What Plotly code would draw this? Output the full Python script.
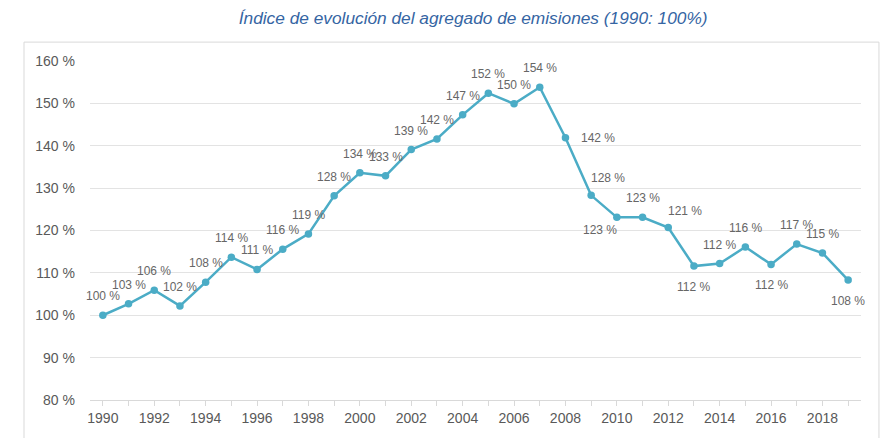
import plotly.graph_objects as go

# Emissions index, 1990 = 100 %
years = list(range(1990, 2020))
index_pct = [100.0, 102.7, 105.9, 102.2, 107.8, 113.7, 110.8, 115.6, 119.2, 128.2,
             133.6, 132.9, 139.1, 141.6, 147.3, 152.4, 149.9, 153.8, 141.9, 128.3,
             123.1, 123.1, 120.7, 111.6, 112.2, 116.1, 112.0, 116.8, 114.7, 108.3]

# where each data label sits relative to its point
label_pos = ['t'] * 18 + ['r', 'tr', 'bl', 't', 'tr', 'b', 't', 't', 'b', 't', 't', 'b']

shifts = {
    't': (0, 19),
    'b': (0, -21),
    'r': (33, 0),
    'tr': (17, 17),
    'bl': (-17, -13),
}

fig = go.Figure()
fig.add_trace(go.Scatter(
    x=years, y=index_pct,
    mode='lines+markers',
    line=dict(color='#4BACC6', width=2.5),
    marker=dict(color='#4BACC6', size=7.5),
    hovertemplate='%{x}: %{y:.1f} %<extra></extra>',
))

for yr, val, pos in zip(years, index_pct, label_pos):
    dx, dy = shifts[pos]
    fig.add_annotation(x=yr, y=val, text=f'{val:.0f} %', showarrow=False,
                       xshift=dx, yshift=dy,
                       font=dict(family='Liberation Sans', size=12, color='#666666'))

# chart frame
fig.add_shape(type='rect', xref='paper', yref='paper',
              x0=-0.0856, x1=1.0233, y0=-0.3, y1=1.0557,
              line=dict(color='#D9D9D9', width=1), layer='below')

# page body adds an 8 px offset, so the figure is a bit smaller than the window
fig.update_layout(
    width=881, height=430,
    margin=dict(l=82, r=28, t=53, b=36),
    paper_bgcolor='white', plot_bgcolor='white',
    showlegend=False,
    title=dict(text='<i>Índice de evolución del agregado de emisiones (1990: 100%)</i>',
               x=0.528, xanchor='center', y=0.977, yanchor='middle',
               font=dict(family='Liberation Sans', size=17.3, color='#3565A3')),
    font=dict(family='Liberation Sans', color='#595959'),
)

fig.update_xaxes(
    range=[1989.5, 2019.5], tickmode='linear', tick0=1990, dtick=2,
    ticks='outside', ticklen=5, tickcolor='#D9D9D9',
    minor=dict(tickmode='linear', tick0=1990, dtick=1, ticks='outside', ticklen=5, tickcolor='#D9D9D9'),
    showline=True, linecolor='#D9D9D9', linewidth=1,
    showgrid=False, zeroline=False,
    tickfont=dict(size=14, color='#595959'),
)
fig.update_yaxes(
    range=[80, 160], tickmode='linear', tick0=80, dtick=10,
    ticksuffix=' %', showgrid=True, gridcolor='#E3E3E3', gridwidth=1,
    zeroline=False, showline=False, ticks='', ticklabelstandoff=14,
    tickfont=dict(size=14, color='#595959'),
)

fig.write_html('out.html')
